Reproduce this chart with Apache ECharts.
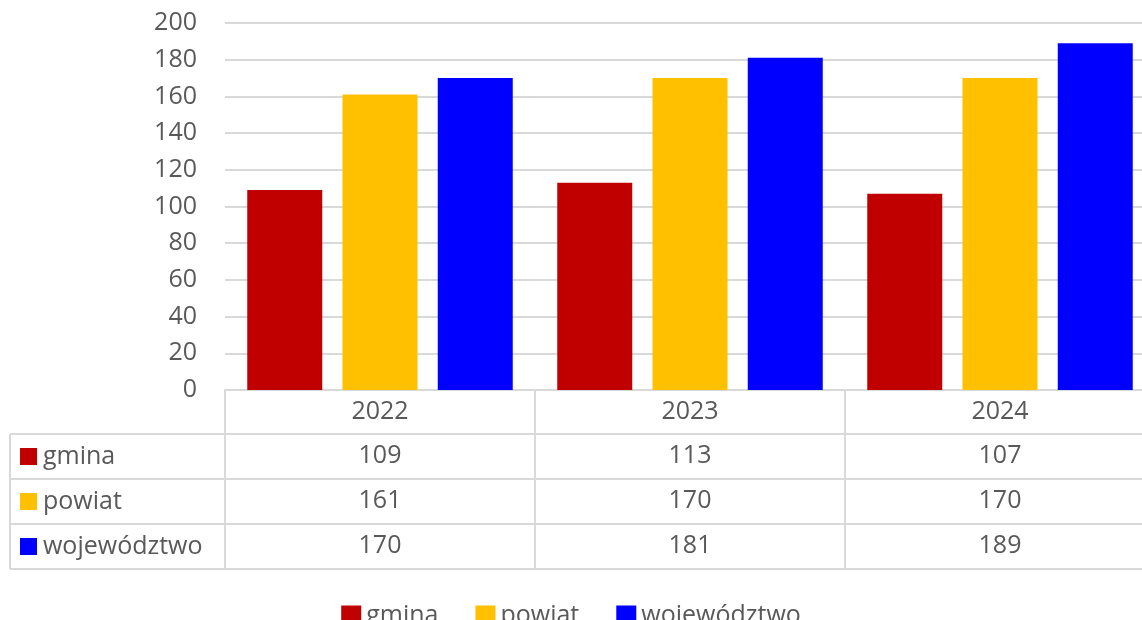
<!DOCTYPE html>
<html>
<head>
<meta charset="utf-8">
<script src="https://cdn.jsdelivr.net/npm/echarts@6/dist/echarts.min.js"></script>
<style>
	html, body { margin: 0; padding: 0; background: #fff; }
	#chart { width: 1142px; height: 620px; }
</style>
</head>
<body>
<div id="chart"></div>
<script>
	// dane
	var years = ['2022', '2023', '2024'];
	var seriesNames = ['gmina', 'powiat', 'województwo'];
	var gmina = [109, 113, 107];
	var powiat = [161, 170, 170];
	var wojewodztwo = [170, 181, 189];
	var yTicks = [0, 20, 40, 60, 80, 100, 120, 140, 160, 180, 200];

	var values = [gmina, powiat, wojewodztwo];
	var colors = ['#C00000', '#FFC000', '#0000FF'];
	var textColor = '#595959';
	var borderColor = '#d9d9d9';
	var font = 'Open Sans';
	var fontSize = 25;

	var gridLeft = 225, gridTop = 23, plotBottom = 390, tableLeft = 10, rowH = 45;

	var chart = echarts.init(document.getElementById('chart'));

	// osie X: naglowek + wiersze tabeli danych
	var xAxes = [];
	for (var i = 0; i < 5; i++) {
		xAxes.push({
			type: 'category',
			data: years,
			position: 'bottom',
			offset: i === 0 ? 0 : i * rowH - 1,
			axisLine: { show: true, lineStyle: { color: borderColor, width: 2 } },
			axisTick: {
				show: i < 4,
				length: rowH,
				interval: 0,
				lineStyle: { color: borderColor, width: 2 }
			},
			axisLabel: {
				show: i < 4,
				interval: 0,
				margin: 22,
				verticalAlign: 'middle',
				color: textColor,
				fontSize: fontSize,
				fontFamily: font,
				formatter: (function(k) {
					return function(val, idx) {
						return k === 0 ? val : String(values[k - 1][idx]);
					};
				})(i)
			}
		});
	}

	// lewa kolumna tabeli
	var graphics = [];
	for (var r = 0; r < 3; r++) {
		var rowTop = plotBottom + rowH * (r + 1) - 1;
		graphics.push({
			type: 'rect',
			shape: { x: 20, y: rowTop + 14, width: 17, height: 17 },
			style: { fill: colors[r] }
		});
		graphics.push({
			type: 'text',
			x: 43,
			y: rowTop + rowH / 2,
			style: {
				text: seriesNames[r],
				fill: textColor,
				fontSize: fontSize,
				fontFamily: font,
				verticalAlign: 'middle'
			}
		});
	}
	for (var h = 1; h <= 4; h++) {
		var yy = plotBottom + rowH * h - 1;
		graphics.push({
			type: 'line',
			shape: { x1: tableLeft, y1: yy, x2: gridLeft, y2: yy },
			style: { stroke: borderColor, lineWidth: 2 }
		});
	}
	graphics.push({
		type: 'line',
		shape: { x1: tableLeft, y1: plotBottom + rowH - 1, x2: tableLeft, y2: plotBottom + rowH * 4 - 1 },
		style: { stroke: borderColor, lineWidth: 2 }
	});

	var option = {
		backgroundColor: '#fff',
		animation: false,
		color: colors,
		grid: {
			left: gridLeft,
			top: gridTop,
			width: 930,
			height: plotBottom - gridTop,
			containLabel: false,
			outerBoundsMode: 'none'
		},
		legend: {
			data: seriesNames,
			left: 'center',
			top: 598,
			itemWidth: 20,
			itemHeight: 20,
			itemGap: 37,
			icon: 'rect',
			textStyle: { color: textColor, fontSize: fontSize, fontFamily: font }
		},
		xAxis: xAxes,
		yAxis: {
			type: 'value',
			min: yTicks[0],
			max: yTicks[yTicks.length - 1],
			interval: yTicks[1] - yTicks[0],
			axisLine: { show: false },
			axisTick: { show: false },
			axisLabel: { color: textColor, fontSize: fontSize, fontFamily: font, margin: 28 },
			splitLine: { lineStyle: { color: borderColor, width: 2 } }
		},
		graphic: graphics,
		series: seriesNames.map(function(name, k) {
			return {
				name: name,
				type: 'bar',
				xAxisIndex: 0,
				data: values[k],
				barWidth: 75,
				barGap: '27%',
				itemStyle: { color: colors[k] }
			};
		})
	};

	chart.setOption(option);
</script>
</body>
</html>
